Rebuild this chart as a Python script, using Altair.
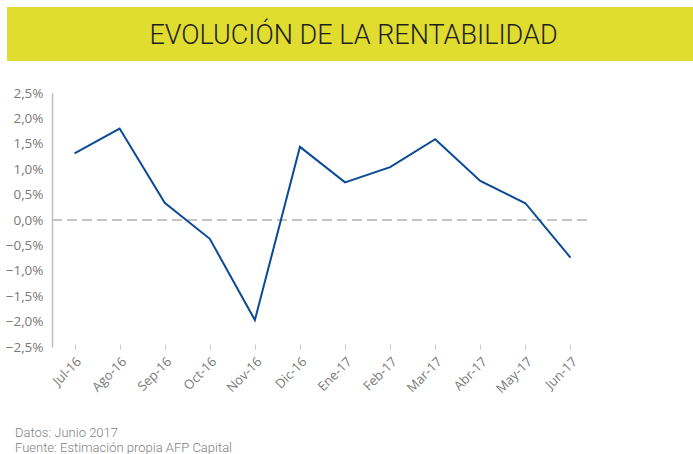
import altair as alt
import pandas as pd

months = ["Jul-16", "Ago-16", "Sep-16", "Oct-16", "Nov-16", "Dic-16",
          "Ene-17", "Feb-17", "Mar-17", "Abr-17", "May-17", "Jun-17"]
rentabilidad = [1.31, 1.80, 0.34, -0.37, -1.97, 1.44, 0.74, 1.04, 1.59, 0.77, 0.33, -0.74]
y_ticks = [-2.5, -2.0, -1.5, -1.0, -0.5, 0.0, 0.5, 1.0, 1.5, 2.0, 2.5]
zero_level = [0.0]
title_text = "EVOLUCIÓN DE LA RENTABILIDAD"
footer_lines = ["Datos: Junio 2017", "Fuente: Estimación propia AFP Capital"]

df = pd.DataFrame({"mes": months, "valor": rentabilidad})
zdf = pd.DataFrame({"valor": zero_level})
one = pd.DataFrame({"k": [0]})

W, H = 541, 254
LEFT, TOP = 52, 93

yscale = alt.Scale(domain=[-2.5, 2.5], nice=False, zero=False)

x_enc = alt.X("mes:N", sort=months, title=None,
              scale=alt.Scale(type="point", padding=0.5),
              axis=alt.Axis(labelAngle=315, labelAlign="right", labelBaseline="top",
                            domain=False, ticks=True, tickSize=5, tickColor="#c8c8c8",
                            offset=-3, labelPadding=6, labelFont="Open Sans",
                            labelFontSize=13, labelColor="#7a7a7a", labelOverlap=False))
y_enc = alt.Y("valor:Q", title=None, scale=yscale,
              axis=alt.Axis(values=y_ticks, grid=False, ticks=False, domain=True,
                            domainColor="#bfbfbf", domainWidth=1.5, labelPadding=9,
                            labelFont="Open Sans", labelFontSize=13.5, labelColor="#7a7a7a",
                            labelOverlap=False, labelBound=False,
                            labelExpr="replace(format(datum.value, '.1f'), '.', ',') + '%'"))

line = alt.Chart(df).mark_line(color="#0b4a95", strokeWidth=2).encode(x=x_enc, y=y_enc)

zero = alt.Chart(zdf).mark_rule(color="#c4c4c4", strokeWidth=2, strokeDash=[10, 5]).encode(
    x=alt.value(0), x2=alt.value(538), y=y_enc
)

banner = alt.Chart(one).mark_rect(color="#e0dd30").encode(
    x=alt.value(-45), x2=alt.value(641), y=alt.value(-86), y2=alt.value(-32)
)

title = alt.Chart(one).mark_text(text=title_text, font="Roboto", fontSize=27, fontWeight=300,
                                 color="#1f1f1f", align="center", baseline="alphabetic").encode(
    x=alt.value(301.5), y=alt.value(-49.5)
)

foot1 = alt.Chart(one).mark_text(text=footer_lines[0], font="Roboto", fontSize=13, fontWeight=300,
                                 color="#7f7f7f", align="left", baseline="alphabetic").encode(
    x=alt.value(-37), y=alt.value(343.5)
)
foot2 = alt.Chart(one).mark_text(text=footer_lines[1], font="Roboto", fontSize=13, fontWeight=300,
                                 color="#7f7f7f", align="left", baseline="alphabetic").encode(
    x=alt.value(-37), y=alt.value(358.5)
)

chart = alt.layer(banner, title, zero, line, foot1, foot2).properties(
    width=W, height=H,
    autosize=alt.AutoSizeParams(type="none"),
    padding={"left": LEFT, "top": TOP, "right": 693 - LEFT - W, "bottom": 454 - TOP - H},
    background="white",
).configure_view(stroke=None).configure_axis(labelOverlap=False)

chart.save("out.html", embed_options={"renderer": "svg", "actions": False})
